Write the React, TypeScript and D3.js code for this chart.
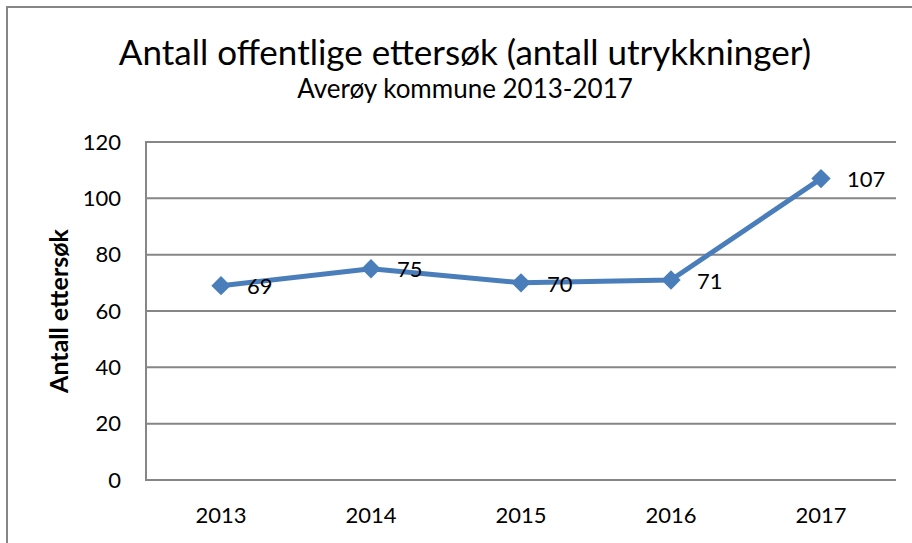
import React, { useEffect, useRef } from "react";
import * as d3 from "d3";

const years = ["2013", "2014", "2015", "2016", "2017"];
const counts = [69, 75, 70, 71, 107];
const yTicks = [0, 20, 40, 60, 80, 100, 120];

const title = "Antall offentlige ettersøk (antall utrykkninger)";
const subtitle = "Averøy kommune 2013-2017";
const yTitle = "Antall ettersøk";

export default function App() {
  const ref = useRef<SVGSVGElement | null>(null);

  useEffect(() => {
    const font = "Lato, 'Open Sans', sans-serif";
    const svg = d3.select(ref.current);
    svg.selectAll("*").remove();

    // outer chart border (runs off the right/bottom of the picture)
    svg.append("rect")
      .attr("x", 7).attr("y", 7)
      .attr("width", 940).attr("height", 560)
      .attr("fill", "#fff")
      .attr("stroke", "#868686")
      .attr("stroke-width", 2);

    const left = 146, right = 896, top = 142, bottom = 480;

    const x = d3.scaleBand().domain(years).range([left, right]);
    const y = d3.scaleLinear().domain([0, 120]).range([bottom, top]);

    // gridlines
    svg.append("g").selectAll("line")
      .data(yTicks)
      .enter().append("line")
      .attr("x1", left).attr("x2", right)
      .attr("y1", (d) => y(d)).attr("y2", (d) => y(d))
      .attr("stroke", "#868686").attr("stroke-width", 2);

    // y axis line
    svg.append("line")
      .attr("x1", left).attr("x2", left)
      .attr("y1", top - 1).attr("y2", bottom + 1)
      .attr("stroke", "#868686").attr("stroke-width", 2);

    // y tick labels
    svg.append("g").selectAll("text")
      .data(yTicks)
      .enter().append("text")
      .attr("x", 121)
      .attr("y", (d) => y(d))
      .attr("dy", "0.35em")
      .attr("text-anchor", "end")
      .style("font-family", font).style("font-size", "22px")
      .text((d) => d);

    // x labels
    svg.append("g").selectAll("text")
      .data(years)
      .enter().append("text")
      .attr("x", (d) => x(d)! + x.bandwidth() / 2)
      .attr("y", 523)
      .attr("text-anchor", "middle")
      .style("font-family", font).style("font-size", "22px")
      .text((d) => d);

    // titles
    svg.append("text")
      .attr("x", 465).attr("y", 65)
      .attr("text-anchor", "middle")
      .style("font-family", font).style("font-size", "35px")
      .text(title);
    svg.append("text")
      .attr("x", 465).attr("y", 98)
      .attr("text-anchor", "middle")
      .style("font-family", font).style("font-size", "26px")
      .text(subtitle);
    svg.append("text")
      .attr("transform", "translate(68,311) rotate(-90)")
      .attr("text-anchor", "middle")
      .style("font-family", font).style("font-size", "25px")
      .style("font-weight", "bold")
      .text(yTitle);

    const pts = years.map((yr, i) => ({ yr, v: counts[i] }));
    const cx = (d: { yr: string }) => x(d.yr)! + x.bandwidth() / 2;

    const line = d3.line<{ yr: string; v: number }>()
      .x(cx)
      .y((d) => y(d.v));

    svg.append("path")
      .datum(pts)
      .attr("d", line)
      .attr("fill", "none")
      .attr("stroke", "#4a7ebb")
      .attr("stroke-width", 5)
      .attr("stroke-linejoin", "round");

    svg.append("g").selectAll("path")
      .data(pts)
      .enter().append("path")
      .attr("d", d3.symbol().type(d3.symbolDiamond2).size(240)()!)
      .attr("transform", (d) => `translate(${cx(d)},${y(d.v)})`)
      .attr("fill", "#4a7ebb");

    // data labels
    svg.append("g").selectAll("text")
      .data(pts)
      .enter().append("text")
      .attr("x", (d) => cx(d) + 26)
      .attr("y", (d) => y(d.v) + 1)
      .attr("dy", "0.35em")
      .style("font-family", font).style("font-size", "22px")
      .text((d) => d.v);
  }, []);

  return (
    <svg ref={ref} width={912} height={543} style={{ display: "block", position: "absolute", left: 0, top: 0 }} />
  );
}
